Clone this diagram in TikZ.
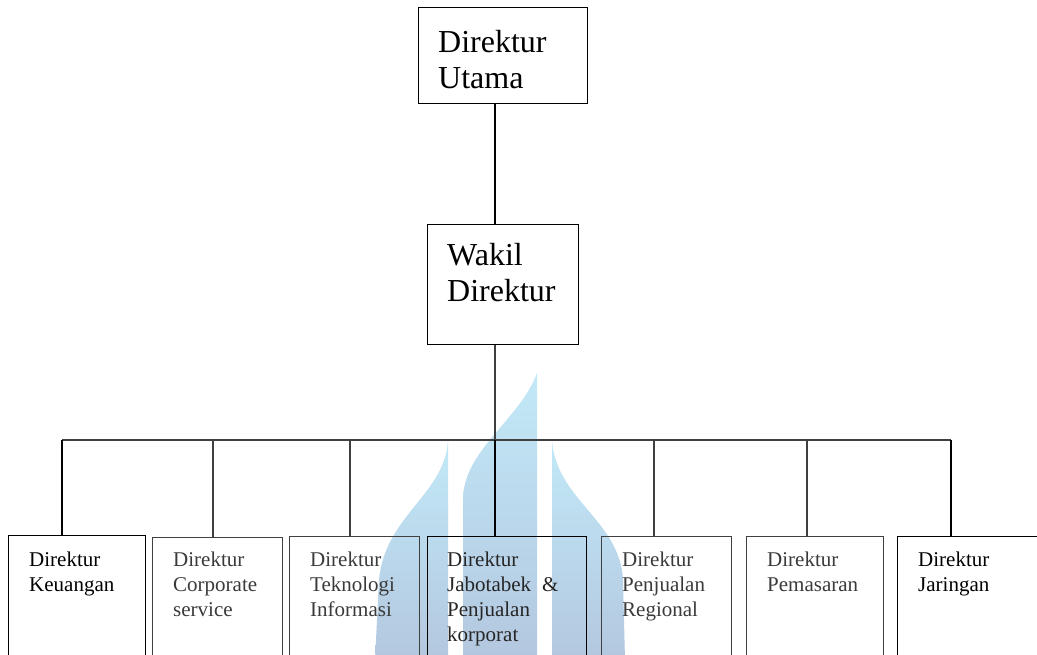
\documentclass[tikz,border=0pt]{standalone}
\usepackage{fontspec}
\setmainfont{Liberation Serif}
\definecolor{ln}{HTML}{404040}
\definecolor{tx}{HTML}{3A3A3A}
\definecolor{wmtop}{HTML}{C2E9F8}
\definecolor{wmbot}{HTML}{B3C7DF}
\tikzset{
  boxk/.style={draw=black, line width=1.4pt, rectangle, inner sep=0pt, anchor=north west},
  boxg/.style={draw=ln, line width=1.4pt, rectangle, inner sep=0pt, anchor=north west},
  bigtxt/.style={anchor=north west, inner sep=0pt, align=left, font=\fontsize{32}{36}\selectfont},
  smalltxt/.style={anchor=north west, inner sep=0pt, align=left, font=\fontsize{21}{25}\selectfont},
  conk/.style={draw=black, line width=1.4pt},
  cong/.style={draw=ln, line width=1.4pt},
  wm/.style={top color=wmtop, bottom color=wmbot, draw=none}
}
\begin{document}
\begin{tikzpicture}[x=1pt,y=-1pt]
\useasboundingbox (0,0) rectangle (1037,654);
\clip (0,0) rectangle (1037,654);
\fill[white] (0,0) rectangle (1037,654);
% watermark
\path[wm] (448,440) .. controls (445,495) and (385,515) .. (379,580) -- (375,660) -- (448,660) -- cycle;
\path[wm] (537,373) .. controls (520,420) and (463,450) .. (463,500) -- (463,660) -- (537,660) -- cycle;
\path[wm] (552,440) .. controls (556,500) and (620,520) .. (623,580) -- (625,660) -- (552,660) -- cycle;
% boxes
\node[boxk, minimum width=169pt, minimum height=96pt] (top) at (418,7) {};
\node[boxk, minimum width=151pt, minimum height=120pt] (wakil) at (427,224) {};
\node[boxk, minimum width=137pt, minimum height=170pt] (b1) at (8,535) {};
\node[boxg, minimum width=130pt, minimum height=170pt] (b2) at (152,537) {};
\node[boxg, minimum width=130pt, minimum height=170pt] (b3) at (289,536) {};
\node[boxk, minimum width=159pt, minimum height=170pt] (b4) at (427,536) {};
\node[boxg, minimum width=130pt, minimum height=170pt] (b5) at (601,536) {};
\node[boxg, minimum width=137pt, minimum height=170pt] (b6) at (746,536) {};
\node[boxk, minimum width=160pt, minimum height=170pt] (b7) at (897,536) {};
% texts
\node[bigtxt] (ttop) at (438,30) {Direktur\\Utama};
\node[bigtxt] (twakil) at (447,243) {Wakil\\Direktur};
\node[smalltxt] (t1) at (29,552) {Direktur\\Keuangan};
\node[smalltxt, text=tx] (t2) at (173,552) {Direktur\\Corporate\\service};
\node[smalltxt, text=tx] (t3) at (310,552) {Direktur\\Teknologi\\Informasi};
\node[smalltxt, text=black!85] (t4) at (447,552) {Direktur\\Jabotabek\hspace{11pt}\&\\Penjualan\\korporat};
\node[smalltxt, text=tx] (t5) at (622,552) {Direktur\\Penjualan\\Regional};
\node[smalltxt, text=tx] (t6) at (767,552) {Direktur\\Pemasaran};
\node[smalltxt] (t7) at (918,552) {Direktur\\Jaringan};
% connectors
\coordinate (bus) at (495,440);
\coordinate (d1) at (62,440);
\coordinate (d2) at (213,440);
\coordinate (d3) at (350,440);
\coordinate (d5) at (654,440);
\coordinate (d6) at (807,440);
\coordinate (d7) at (951,440);
\draw[conk] (bus |- top.south) -- (bus |- wakil.north);
\draw[cong] (bus |- wakil.south) -- (bus);
\draw[cong] (d1) -- (d7);
\draw[conk] (d1) -- (d1 |- b1.north);
\draw[cong] (d2) -- (d2 |- b2.north);
\draw[cong] (d3) -- (d3 |- b3.north);
\draw[conk] (bus) -- (bus |- b4.north);
\draw[cong] (d5) -- (d5 |- b5.north);
\draw[cong] (d6) -- (d6 |- b6.north);
\draw[conk] (d7) -- (d7 |- b7.north);
\end{tikzpicture}
\end{document}
